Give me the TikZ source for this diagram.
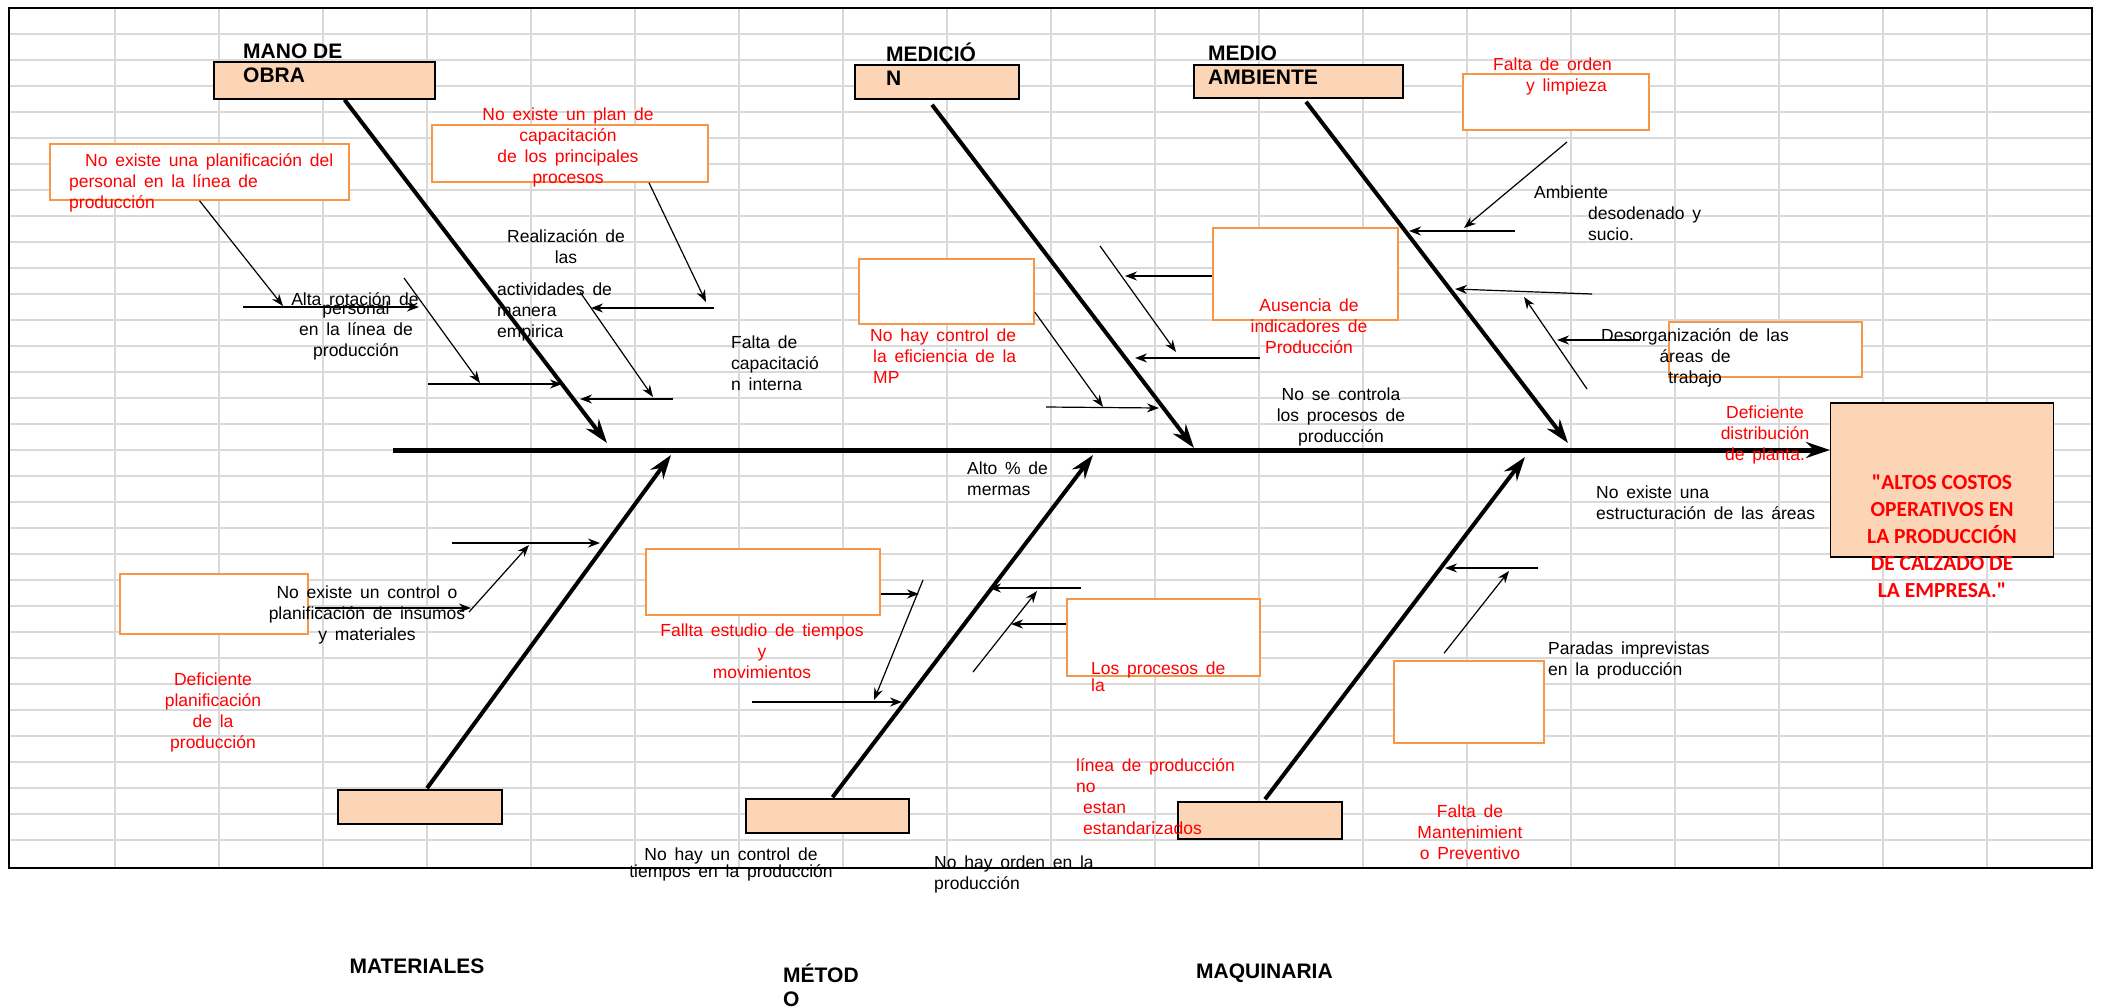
\documentclass[tikz,border=0pt]{standalone}
\usepackage{fontspec}
\setmainfont{Liberation Sans}
\newfontfamily\widefont{Liberation Sans}[WordSpace=1.6]
\newfontfamily\carlito{Carlito}
\usetikzlibrary{arrows.meta}
\definecolor{peach}{HTML}{FBD5B5}
\definecolor{boxorange}{HTML}{F79646}
\definecolor{gridgray}{HTML}{D9D9D9}
\definecolor{txtred}{HTML}{FF0000}
\tikzset{
  catbox/.style={draw=black, line width=1.5pt, fill=peach, inner sep=0pt},
  causebox/.style={draw=boxorange, line width=1.5pt, fill=white, inner sep=0pt},
  bone/.style={line width=4pt, -{Stealth[length=24pt,width=16pt,inset=8pt]}},
  subarrow/.style={line width=1.2pt, -{Stealth[length=12pt,width=9pt]}},
  txt/.style={inner sep=0pt, font=\widefont\fontsize{17.5}{21}\selectfont},
  redtxt/.style={txt, text=txtred},
  catlabel/.style={inner sep=0pt, align=left, font=\fontsize{21}{24}\selectfont\bfseries},
}

\begin{document}
\begin{tikzpicture}[x=1pt, y=-1pt]
    \useasboundingbox (0,0) rectangle (2103,1007);
    % sheet grid
    \foreach \i in {1,...,19}
        \draw [gridgray, line width=1.5pt] (11+104*\i, 8) -- (11+104*\i, 868);
    \foreach \j in {0,...,31}
        \draw [gridgray, line width=1.5pt] (9, 34+26*\j) -- (2092, 34+26*\j);
    \draw [line width=2.5pt] (9,8) rectangle (2092,868);

    % category boxes
    \node [catbox, minimum width=221pt, minimum height=37pt] (manobox) at (324.5,80.5) {};
    \node [catbox, minimum width=164pt, minimum height=34pt] (medbox)  at (937,82) {};
    \node [catbox, minimum width=209pt, minimum height=33pt] (ambbox)  at (1298.5,81.5) {};
    \node [catbox, minimum width=164pt, minimum height=34pt] (matbox)  at (420,807) {};
    \node [catbox, minimum width=163pt, minimum height=34pt] (metbox)  at (827.5,816) {};
    \node [catbox, minimum width=164pt, minimum height=37pt] (maqbox)  at (1260,820.5) {};
    \node [catbox, minimum width=223pt, minimum height=154pt] (effect) at (1942,480) {};

    % cause boxes
    \node [causebox, minimum width=299pt, minimum height=56pt] (c1box)  at (199.5,172) {};
    \node [causebox, minimum width=276pt, minimum height=57pt] (c2box)  at (570,153.5) {};
    \node [causebox, minimum width=175pt, minimum height=65pt] (c3box)  at (946.5,291.5) {};
    \node [causebox, minimum width=185pt, minimum height=92pt] (c4box)  at (1305.5,274) {};
    \node [causebox, minimum width=186pt, minimum height=56pt] (c5box)  at (1556,102) {};
    \node [causebox, minimum width=193pt, minimum height=55pt] (c6box)  at (1765.5,349.5) {};
    \node [causebox, minimum width=188pt, minimum height=60pt] (c7box)  at (214,604) {};
    \node [causebox, minimum width=234pt, minimum height=66pt] (c8box)  at (763,582) {};
    \node [causebox, minimum width=193pt, minimum height=77pt] (c9box)  at (1163.5,637.5) {};
    \node [causebox, minimum width=150pt, minimum height=82pt] (c10box) at (1469,702) {};

    % spine and bones
    \coordinate (spine) at (393,450);
    \coordinate (spineend) at (1830,450);
    \coordinate (manotip) at (607,443);
    \coordinate (medtip) at (1194,448);
    \coordinate (ambtip) at (1568,443);
    \coordinate (mattip) at (671,455);
    \coordinate (mettip) at (1093,455);
    \coordinate (maqtip) at (1525,457);
    \draw [bone, line width=5pt] (spine) -- (spineend);
    \draw [bone] ([xshift=20pt]manobox.south) -- (manotip);
    \draw [bone] ([xshift=-5pt,yshift=-5pt]medbox.south) -- (medtip);
    \draw [bone] ([xshift=7.5pt,yshift=-3pt]ambbox.south) -- (ambtip);
    \draw [bone] ([xshift=7pt,yshift=1pt]matbox.north) -- (mattip);
    \draw [bone] ([xshift=5pt,yshift=1pt]metbox.north) -- (mettip);
    \draw [bone] ([xshift=5pt,yshift=2pt]maqbox.north) -- (maqtip);

    % mano de obra
    \coordinate (mo1) at (283,306);
    \coordinate (mo2a) at (243,307); \coordinate (mo2b) at (419,307);
    \coordinate (mo3a) at (404,278); \coordinate (mo3b) at (480,383);
    \coordinate (mo4a) at (428,384); \coordinate (mo4b) at (562,384);
    \coordinate (mo5) at (706,302);
    \coordinate (mo6a) at (714,308); \coordinate (mo6b) at (591,308);
    \coordinate (mo7a) at (580,292); \coordinate (mo7b) at (653,397);
    \coordinate (mo8a) at (673,399); \coordinate (mo8b) at (580,399);
    \draw [subarrow] (c1box.south) -- (mo1);
    \draw [subarrow] (mo2a) -- (mo2b);
    \draw [subarrow] (mo3a) -- (mo3b);
    \draw [subarrow] (mo4a) -- (mo4b);
    \draw [subarrow] ([xshift=79pt]c2box.south) -- (mo5);
    \draw [subarrow] (mo6a) -- (mo6b);
    \draw [subarrow] (mo7a) -- (mo7b);
    \draw [subarrow] (mo8a) -- (mo8b);

    % medicion
    \coordinate (me1) at (1103,407);
    \coordinate (me2a) at (1046,407); \coordinate (me2b) at (1159,408);
    \coordinate (me3) at (1125,276);
    \coordinate (me4a) at (1100,246); \coordinate (me4b) at (1176,352);
    \coordinate (me5a) at (1260,358); \coordinate (me5b) at (1135,358);
    \draw [subarrow] ([yshift=-20.5pt]c3box.east) -- (me1);
    \draw [subarrow] (me2a) -- (me2b);
    \draw [subarrow] ([yshift=-2pt]c4box.west) -- (me3);
    \draw [subarrow] (me4a) -- (me4b);
    \draw [subarrow] (me5a) -- (me5b);

    % medio ambiente
    \coordinate (ma1a) at (1567,142); \coordinate (ma1b) at (1464,228);
    \coordinate (ma2a) at (1515,231); \coordinate (ma2b) at (1409,231);
    \coordinate (ma3a) at (1592,294); \coordinate (ma3b) at (1455,289);
    \coordinate (ma4a) at (1587,389); \coordinate (ma4b) at (1524,297);
    \coordinate (ma5a) at (1640,340); \coordinate (ma5b) at (1557,340);
    \draw [subarrow] (ma1a) -- (ma1b);
    \draw [subarrow] (ma2a) -- (ma2b);
    \draw [subarrow] (ma3a) -- (ma3b);
    \draw [subarrow] (ma4a) -- (ma4b);
    \draw [subarrow] (ma5a) -- (ma5b);

    % materiales
    \coordinate (mt1a) at (452,543); \coordinate (mt1b) at (600,543);
    \coordinate (mt2a) at (469,612); \coordinate (mt2b) at (529,545);
    \coordinate (mt3) at (471,608);
    \draw [subarrow] (mt1a) -- (mt1b);
    \draw [subarrow] (mt2a) -- (mt2b);
    \draw [subarrow] ([xshift=6pt,yshift=-4pt]c7box.east) -- (mt3);

    % metodo
    \coordinate (mz1) at (919,594);
    \coordinate (mz2a) at (923,580); \coordinate (mz2b) at (874,700);
    \coordinate (mz3a) at (752,702); \coordinate (mz3b) at (902,702);
    \coordinate (mz4a) at (1081,588); \coordinate (mz4b) at (989,588);
    \coordinate (mz5a) at (973,672); \coordinate (mz5b) at (1037,591);
    \coordinate (mz6) at (1011,624);
    \draw [subarrow] ([yshift=-12pt]c8box.east) -- (mz1);
    \draw [subarrow] (mz2a) -- (mz2b);
    \draw [subarrow] (mz3a) -- (mz3b);
    \draw [subarrow] (mz4a) -- (mz4b);
    \draw [subarrow] (mz5a) -- (mz5b);
    \draw [subarrow] ([yshift=13.5pt]c9box.west) -- (mz6);

    % maquinaria
    \coordinate (mq1a) at (1538,568); \coordinate (mq1b) at (1445,568);
    \coordinate (mq2) at (1509,571);
    \draw [subarrow] (mq1a) -- (mq1b);
    \draw [subarrow] ([xshift=-25pt,yshift=7pt]c10box.north) -- (mq2);

    % category labels
    \node [catlabel, anchor=west] (manolbl) at (243,63) {MANO DE\\OBRA};
    \node [catlabel, anchor=west] (medlbl) at (886,64.5) {MEDICIÓ\\N};
    \node [catlabel, anchor=west] (amblbl) at (1208,65) {MEDIO\\AMBIENTE};
    \node [catlabel] (matlbl) at (417,966) {MATERIALES};
    \node [catlabel, anchor=west] (metlbl) at (783,985) {MÉTOD\\O};
    \node [catlabel, anchor=west] (maqlbl) at (1196,973) {MAQUINARIA};

    % effect
    \node [inner sep=0pt, align=center, text=txtred, font=\carlito\bfseries\fontsize{21.5}{27}\selectfont] (efflbl) at (1942,536)
        {"ALTOS COSTOS\\OPERATIVOS EN\\LA PRODUCCIÓN\\DE CALZADO DE\\LA EMPRESA."};

    % causes, black
    \node [txt] (alta) at (355,299) {Alta rotación de};
    \node [txt, align=center] (pers) at (356,330.5) {personal\\en la línea de\\producción};
    \node [txt, align=center] (real) at (566,247) {Realización de\\las};
    \node [txt, align=left, anchor=west] (activ) at (497,312) {actividades de\\manera\\empirica};
    \node [txt, align=left, anchor=west] (faltacap) at (731,363) {Falta de\\capacitació\\n interna};
    \node [txt, align=center] (noctrl) at (1341,417) {No se controla\\los procesos de\\producción};
    \node [txt, align=left, anchor=west] (ambiente) at (1534,213) {Ambiente\\\hspace*{54pt}desodenado y\\\hspace*{54pt}sucio.};
    \node [txt, align=center] (desorg) at (1695,358) {Desorganización de las\\áreas de\\trabajo};
    \node [txt, align=left, anchor=west] (mermas) at (967,478.5) {Alto \% de\\mermas};
    \node [txt, align=left, anchor=west] (estruc) at (1596,502.5) {No existe una\\estructuración de las áreas};
    \node [txt, align=center] (insumos) at (367,615) {No existe un control o\\planificación de insumos\\y materiales};
    \node [txt, align=left, anchor=west] (paradas) at (1548,660) {Paradas imprevistas\\en la producción};
    \node [txt, align=center, font=\widefont\fontsize{17.5}{17}\selectfont] (tiempos) at (731,864) {No hay un control de\\tiempos en la producción};
    \node [txt, align=left, anchor=west] (orden) at (934,874) {No hay orden en la\\producción};

    % causes, red
    \node [redtxt, align=left, anchor=west] (r1) at (69,183) {\hspace*{16pt}No existe una planificación del\\personal en la línea de\\producción};
    \node [redtxt, align=center] (r2) at (568,147) {No existe un plan de\\capacitación\\de los principales\\procesos};
    \node [redtxt, align=left, anchor=west] (r3) at (870,356) {No hay control de\\\hspace*{3pt}la eficiencia de la\\\hspace*{3pt}MP};
    \node [redtxt, align=center] (r4) at (1309,326) {Ausencia de\\indicadores de\\Producción};
    \node [redtxt, align=left, anchor=west] (r5) at (1493,76) {Falta de orden\\\hspace*{33pt}y limpieza};
    \node [redtxt, align=center] (r6) at (1765,435) {Deficiente\\distribución\\de planta.};
    \node [redtxt, align=center] (r7) at (213,712) {Deficiente\\planificación\\de la\\producción};
    \node [redtxt, align=center] (r8) at (762,651) {Fallta estudio de tiempos\\y\\movimientos};
    \node [redtxt, align=left, anchor=west, font=\widefont\fontsize{17.5}{16}\selectfont] (r9) at (1091,677) {Los procesos de\\la};
    \node [redtxt, align=left, anchor=west] (r10) at (1076,797) {línea de producción\\no\\\hspace*{7pt}estan\\\hspace*{7pt}estandarizados};
    \node [redtxt, align=center] (r11) at (1470,832) {Falta de\\Mantenimient\\o Preventivo};
\end{tikzpicture}
\end{document}
